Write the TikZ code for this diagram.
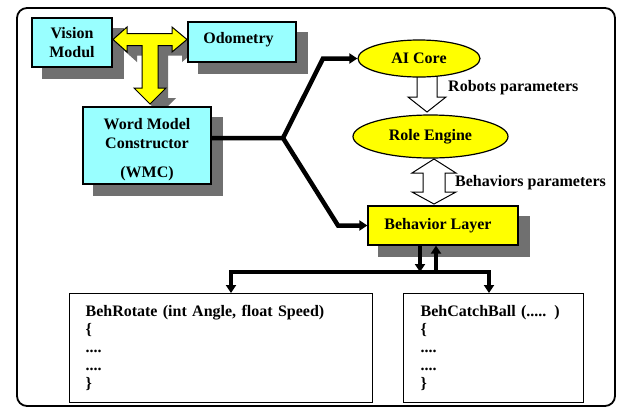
\documentclass[tikz,border=0pt]{standalone}
\usepackage{fontspec}
\setmainfont{Liberation Serif}
\usetikzlibrary{arrows.meta,shapes.geometric,calc}
\definecolor{boxcyan}{RGB}{153,255,255}
\definecolor{sgray}{RGB}{112,112,112}
\definecolor{yel}{RGB}{255,255,0}
\pgfdeclarelayer{bg}
\pgfdeclarelayer{mid}
\pgfsetlayers{bg,mid,main}
\begin{document}
\begin{tikzpicture}[x=1pt,y=-1pt,
  every node/.style={font=\fontsize{16}{19}\selectfont\bfseries},
  cbox/.style={draw=black,line width=1.2pt,fill=boxcyan,inner sep=0pt,align=center},
  ybox/.style={draw=black,line width=1.2pt,fill=yel,inner sep=0pt},
  yell/.style={ellipse,draw=black,line width=1.2pt,fill=yel,inner sep=0pt},
  codebox/.style={draw=black,line width=1.2pt,fill=white,align=left,inner ysep=0pt,minimum height=109pt,anchor=north west,font=\fontsize{16}{18}\selectfont\bfseries},
  lbl/.style={anchor=west,inner sep=0pt},
  conn/.style={line width=4.5pt},
  blockarrow/.style={draw=black,line width=1pt,line join=miter},
  >={Triangle[length=8pt,width=10pt]}
]
\useasboundingbox (0,0) rectangle (621,408);
\begin{pgfonlayer}{bg}
\fill[white] (0,0) rectangle (621,408);
\end{pgfonlayer}
\draw[line width=1.8pt,rounded corners=10pt] (17,8) rectangle (615,406);

% boxes
\node[cbox,minimum width=80pt,minimum height=49pt] (vm) at (72,42.5) {Vision\\Modul};
\node[cbox,minimum width=108pt,minimum height=40pt] (od) at (242,42) {Odometry\hspace*{7pt}\rule[-8pt]{0pt}{8pt}};
\node[cbox,minimum width=128pt,minimum height=77pt] (wmc) at (147,145.5) {\rule{0pt}{19pt}Word Model\\Constructor\\[10pt](WMC)};
\node[yell,minimum width=122pt,minimum height=37pt] (ai) at (419,58.5) {AI Core};
\node[yell,minimum width=155pt,minimum height=43pt] (re) at (430.5,136.5) {Role Engine};
\node[ybox,minimum width=150pt,minimum height=39pt] (beh) at (443,225.5) {Behavior Layer\hspace*{10pt}};
\node[lbl] (rp) at (448,88) {Robots parameters};
\node[lbl] (bp) at (455,183) {Behaviors parameters};
\node[codebox,text width=271pt,inner xsep=16pt] (rot) at (69,293) {BehRotate (int Angle, float Speed)\\\{\\....\\....\\\}};
\node[codebox,text width=146pt,inner xsep=17pt] (catch) at (403,293) {BehCatchBall (..... )\\\{\\....\\....\\\}};

% box shadows
\begin{pgfonlayer}{bg}
\foreach \n in {vm,od,wmc,beh}
  \fill[sgray] ([shift={(11,11)}]\n.north west) rectangle ([shift={(11,11)}]\n.south east);
\end{pgfonlayer}

% block arrows
\begin{pgfonlayer}{mid}
\fill[sgray,shift={(10,10)}] (113,39.5) -- (127,27) -- (127,33.5) -- (172,33.5) -- (172,27) -- (187,39.5) -- (172,52) -- (172,45.5) -- (158,45.5) -- (158,88) -- (166,88) -- (150,104) -- (134,88) -- (142,88) -- (142,45.5) -- (127,45.5) -- (127,52) -- cycle;
\path[blockarrow,fill=yel] (113,39.5) -- (127,27) -- (127,33.5) -- (172,33.5) -- (172,27) -- (187,39.5) -- (172,52) -- (172,45.5) -- (158,45.5) -- (158,88) -- (166,88) -- (150,104) -- (134,88) -- (142,88) -- (142,45.5) -- (127,45.5) -- (127,52) -- cycle;
\path[blockarrow,fill=white] (417,70) -- (417,97) -- (408,97) -- (427,112) -- (446,97) -- (437,97) -- (437,70);
\path[blockarrow,fill=white] (434,159) -- (456,173) -- (445,173) -- (445,192) -- (456,192) -- (434,204) -- (412,192) -- (423,192) -- (423,173) -- (412,173) -- cycle;
\end{pgfonlayer}

% connectors
\coordinate (j) at (283,138);
\coordinate (ja) at (323,58.5);
\coordinate (jb) at (338,225.5);
\draw[conn,->] (wmc.east |- j) -- (j) -- (ja) -- (ai.west);
\draw[conn,->] (j) -- (jb) -- (beh.west);
\coordinate (bl1) at (231,272);
\coordinate (br1) at (489,272);
\coordinate (dn) at (420,272);
\coordinate (up) at (436,272);
\draw[conn,<->] (bl1 |- rot.north) -- (bl1) -- (br1) -- (br1 |- catch.north);
\draw[conn,->] (dn |- beh.south) -- (dn);
\draw[conn,->] (up) -- (up |- beh.south);
\end{tikzpicture}
\end{document}
